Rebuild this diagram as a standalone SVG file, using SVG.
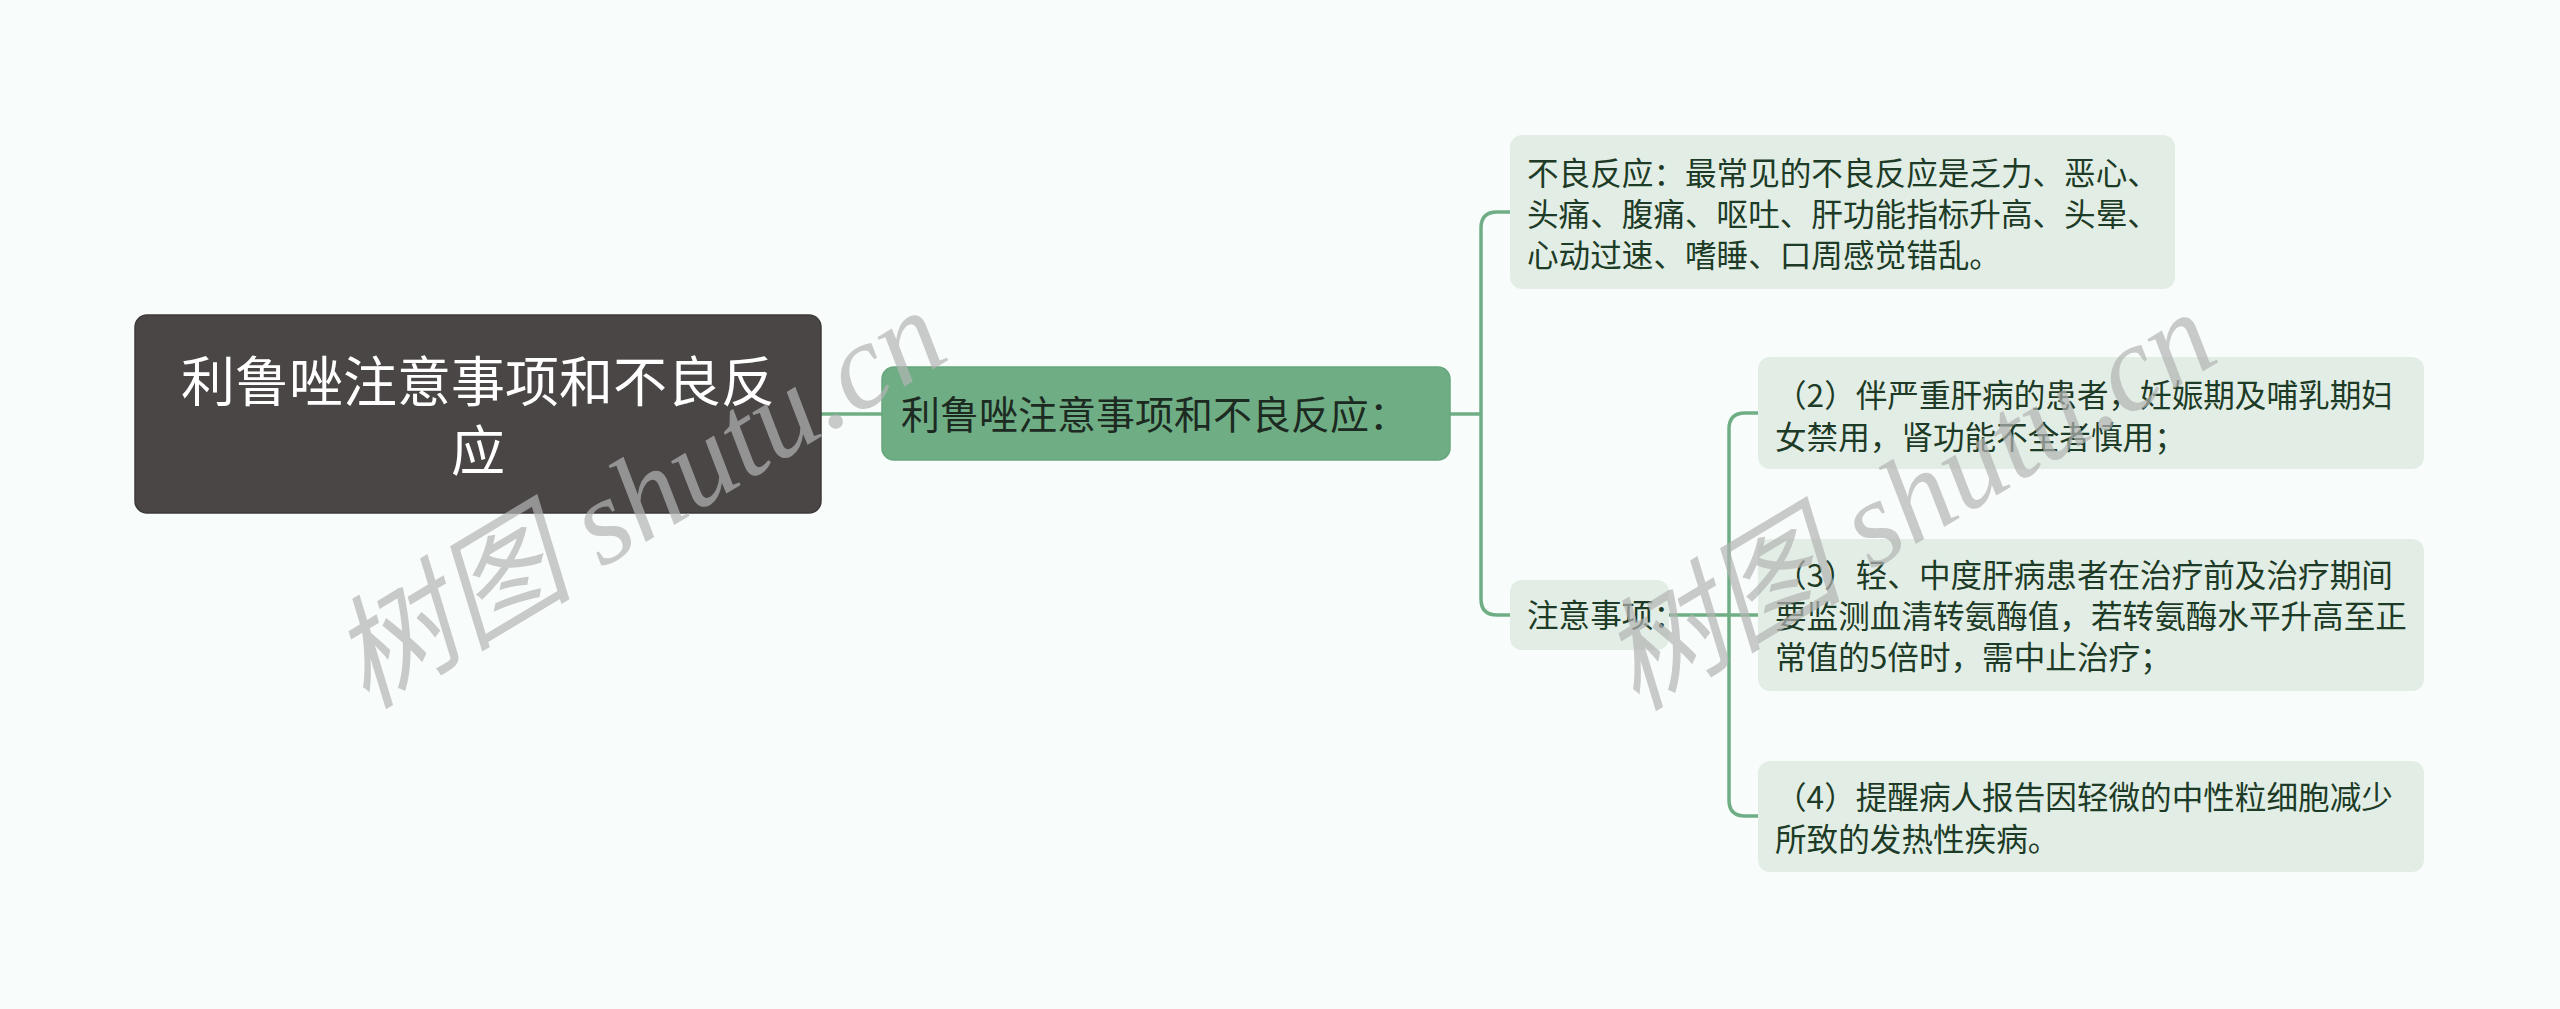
<svg xmlns="http://www.w3.org/2000/svg" width="2560" height="1009" viewBox="0 0 2560 1009">
<style>
.bg{fill:#f8fdfc}
.root{fill:#4b4646;stroke:#3e3a3a;stroke-width:1.5}
.mid{fill:#6fae85;stroke:#66a67c;stroke-width:1.5}
.leaf{fill:#e2eee5}
.t{font-family:"Noto Sans CJK SC","Noto Sans",sans-serif}
.rt{fill:#ffffff;font-size:54px}
.mt{fill:#1d2a21;font-size:39px}
.lt{fill:#1d3b26;font-size:31.6px}
.conn{fill:none;stroke:#6fae85;stroke-width:3.5}
.wm{font-family:"Liberation Serif","Noto Sans CJK SC",serif;font-style:italic;font-size:122px;fill:#b4b4b4;fill-opacity:0.7}
</style>
<rect class="bg" x="0" y="0" width="2560" height="1009"/>
<g id="connectors">
<path class="conn" d="M821,414 H882"/>
<path class="conn" d="M1450,414 H1481"/>
<path class="conn" d="M1510,212 H1497 Q1481,212 1481,228 V599 Q1481,615 1497,615 H1510"/>
<path class="conn" d="M1669,615 H1758"/>
<path class="conn" d="M1758,413 H1745 Q1729,413 1729,429 V800 Q1729,816 1745,816 H1758"/>
</g>
<g id="node-root">
<rect class="root" x="135" y="315" width="686" height="198" rx="12"/>
<text class="t rt" x="478" y="402" text-anchor="middle">利鲁唑注意事项和不良反</text>
<text class="t rt" x="478" y="471" text-anchor="middle">应</text>
</g>
<g id="node-main">
<rect class="mid" x="882" y="367" width="568" height="93" rx="12"/>
<text class="t mt" x="901" y="429">利鲁唑注意事项和不良反应：</text>
</g>
<g id="node-adverse">
<rect class="leaf" x="1510" y="135" width="665" height="154" rx="12"/>
<text class="t lt" x="1527" y="185">不良反应：最常见的不良反应是乏力、恶心、</text>
<text class="t lt" x="1527" y="226">头痛、腹痛、呕吐、肝功能指标升高、头晕、</text>
<text class="t lt" x="1527" y="267">心动过速、嗜睡、口周感觉错乱。</text>
</g>
<g id="node-notes">
<rect class="leaf" x="1510" y="580" width="159" height="70" rx="12"/>
<text class="t lt" x="1527" y="627">注意事项：</text>
</g>
<g id="node-note2">
<rect class="leaf" x="1758" y="357" width="666" height="112" rx="12"/>
<text class="t lt" x="1775" y="407">（2）伴严重肝病的患者，妊娠期及哺乳期妇</text>
<text class="t lt" x="1775" y="449">女禁用，肾功能不全者慎用；</text>
</g>
<g id="node-note3">
<rect class="leaf" x="1758" y="539" width="666" height="152" rx="12"/>
<text class="t lt" x="1775" y="587">（3）轻、中度肝病患者在治疗前及治疗期间</text>
<text class="t lt" x="1775" y="628">要监测血清转氨酶值，若转氨酶水平升高至正</text>
<text class="t lt" x="1775" y="669">常值的5倍时，需中止治疗；</text>
</g>
<g id="node-note4">
<rect class="leaf" x="1758" y="761" width="666" height="111" rx="12"/>
<text class="t lt" x="1775" y="809">（4）提醒病人报告因轻微的中性粒细胞减少</text>
<text class="t lt" x="1775" y="851">所致的发热性疾病。</text>
</g>
<g id="watermarks">
<text class="wm" transform="translate(366,710) rotate(-31)">树图 shutu.cn</text>
<text class="wm" transform="translate(1636,712) rotate(-31)">树图 shutu.cn</text>
</g>
</svg>
